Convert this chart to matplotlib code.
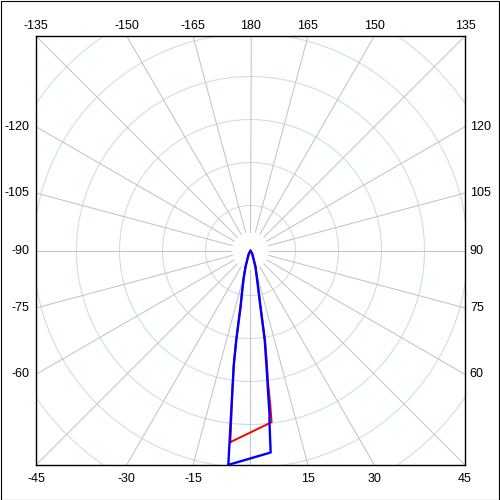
import numpy as np
import matplotlib
matplotlib.use('Agg')
import matplotlib.pyplot as plt
from matplotlib.patches import Circle, Rectangle

# pattern traces: angle in degrees (0 at bottom, +90 at right), radius in plot units
blue_theta = [-5.9, -6.0, -6.6, -7.2, -8.3, -9.0, -9.5, -10.0, -11.5, -14.0, -17.0, -27.0, 0.0,
              27.0, 17.0, 12.8, 10.0, 9.5, 9.0, 7.9, 7.0, 6.6, 6.3, 5.7]
blue_r = [215.5, 209.0, 173.0, 146.0, 116.0, 91.0, 71.0, 57.0, 42.0, 28.0, 17.0, 4.0, 0.0,
          4.0, 17.0, 30.0, 57.0, 71.0, 91.0, 116.0, 146.0, 166.0, 173.0, 203.0]
red_theta = [-6.0, -6.5, -7.3, -8.3, -9.1, -9.6, -10.1, -11.6, -14.0, -17.0, -27.0, 0.0,
             27.0, 17.0, 13.0, 10.2, 9.6, 9.2, 8.2, 7.6, 7.3, 7.0]
red_r = [192.7, 170.0, 146.0, 116.0, 91.0, 71.0, 57.0, 42.0, 28.0, 17.0, 4.0, 0.0,
         4.0, 17.0, 30.0, 57.0, 71.0, 91.0, 116.0, 131.0, 156.0, 173.0]

circle_r = [45, 88, 131, 174, 217, 260, 303]
spoke_angles = np.arange(-165, 181, 15)
label_angles = [a for a in spoke_angles if a != 0]

half = 214.5


def to_xy(theta, r):
    t = np.radians(np.asarray(theta, dtype=float))
    r = np.asarray(r, dtype=float)
    return r * np.sin(t), -r * np.cos(t)


fig = plt.figure(figsize=(5, 5), dpi=100)
fig.patches.append(Rectangle((0.001, 0.001), 0.997, 0.997, transform=fig.transFigure,
                             fill=False, edgecolor='black', linewidth=0.8))
ax = fig.add_axes([36 / 500, 35 / 500, 429 / 500, 429 / 500])
ax.set_xlim(-half, half)
ax.set_ylim(-half, half)
ax.set_xticks([])
ax.set_yticks([])
for s in ax.spines.values():
    s.set_linewidth(1.0)

for rc in circle_r:
    ax.add_patch(Circle((0, 0), rc, fill=False, edgecolor='#c6e2ec', linewidth=0.8))

for a in spoke_angles:
    x0, y0 = to_xy([a], [19])
    x1, y1 = to_xy([a], [400])
    ax.plot([x0[0], x1[0]], [y0[0], y1[0]], color='#c4c4c4', linewidth=0.75)

# tick labels around the square
lab = dict(fontsize=9, family='Liberation Sans', annotation_clip=False,
           textcoords='offset points', va='center')
for a in label_angles:
    t = np.radians(a)
    dx, dy = np.sin(t), -np.cos(t)
    if abs(dy) >= abs(dx) - 1e-6:
        k = half / abs(dy)
        px, py = dx * k, dy * k
        if dy > 0:
            ax.annotate(str(a), (px, py), xytext=(0, 7.5), ha='center', **lab)
        else:
            ax.annotate(str(a), (px, py), xytext=(0, -10), ha='center', **lab)
    else:
        k = half / abs(dx)
        px, py = dx * k, dy * k
        if dx > 0:
            ax.annotate(str(a), (px, py), xytext=(3.5, 0), ha='left', **lab)
        else:
            ax.annotate(str(a), (px, py), xytext=(-4.5, 0), ha='right', **lab)

rx, ry = to_xy(red_theta + red_theta[:1], red_r + red_r[:1])
ax.plot(rx, ry, color='red', linewidth=1.4, zorder=3)
bx, by = to_xy(blue_theta + blue_theta[:1], blue_r + blue_r[:1])
ax.plot(bx, by, color='blue', linewidth=1.7, zorder=4)

fig.savefig('out.png', dpi=100)
